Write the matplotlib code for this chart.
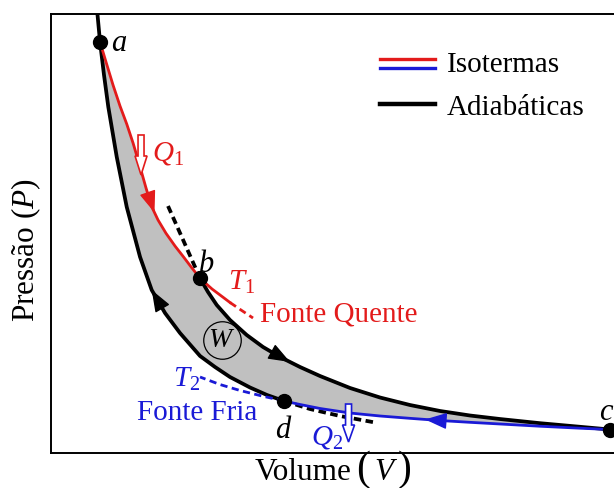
import matplotlib
matplotlib.use("Agg")
import matplotlib.pyplot as plt
from matplotlib.patches import FancyArrow
from matplotlib.offsetbox import TextArea, HPacker, AnnotationBbox
import numpy as np

plt.rcParams["font.family"] = ["Liberation Serif", "DejaVu Serif"]
plt.rcParams["mathtext.fontset"] = "custom"
plt.rcParams["mathtext.rm"] = "Liberation Serif"
plt.rcParams["mathtext.it"] = "Liberation Serif:italic"

red = "#e31b1b"
blue = "#1a1ad6"
gray = "#c0c0c0"

####################
# Ciclo de Carnot  #
####################

# estados a, b, c, d (V, P)
state_names = ["a", "b", "c", "d"]
state_V = [0.854, 2.596, 9.739, 4.059]
state_P = [9.362, 3.980, 0.535, 1.185]

# isoterma quente a -> b
hot_V = [0.854, 0.958, 1.080, 1.202, 1.319, 1.429, 1.542, 1.655, 1.754, 1.803,
         1.864, 2.003, 2.160, 2.305, 2.448, 2.596]
hot_P = [9.362, 8.907, 8.383, 7.904, 7.494, 7.062, 6.560, 6.036, 5.611, 5.476,
         5.308, 5.005, 4.715, 4.472, 4.226, 3.980]
hot_ext_V = [2.596, 2.805, 3.014, 3.118]
hot_ext_P = [3.980, 3.736, 3.531, 3.428]
hot_dash_V = [3.118, 3.310, 3.519]
hot_dash_P = [3.428, 3.257, 3.075]

# adiabatica b -> c
ad_bc_V = [2.596, 2.735, 2.887, 3.118, 3.409, 3.693, 3.990, 4.164, 4.338, 4.686,
           5.209, 5.732, 6.254, 6.777, 7.300, 7.822, 8.519, 9.216, 9.739]
ad_bc_P = [3.980, 3.667, 3.371, 3.030, 2.688, 2.415, 2.187, 2.073, 1.959, 1.754,
           1.481, 1.264, 1.093, 0.957, 0.854, 0.774, 0.679, 0.597, 0.535]
ad_bc_dash_V = [2.038, 2.317, 2.596]
ad_bc_dash_P = [5.626, 4.806, 3.980]

# isoterma fria c -> d
cold_V = [9.739, 9.216, 8.519, 7.822, 7.300, 6.777, 6.516, 6.254, 5.732, 5.209,
          4.686, 4.338, 4.059]
cold_P = [0.535, 0.565, 0.610, 0.661, 0.699, 0.740, 0.765, 0.790, 0.843, 0.911,
          1.014, 1.105, 1.185]
cold_dash_V = [4.059, 3.676, 3.293, 2.944, 2.596]
cold_dash_P = [1.185, 1.298, 1.424, 1.560, 1.731]

# adiabatica d -> a
ad_da_V = [4.059, 3.763, 3.467, 3.118, 2.857, 2.596, 2.247, 1.986, 1.754, 1.551,
           1.319, 1.145, 0.998, 0.923, 0.854]
ad_da_P = [1.185, 1.321, 1.492, 1.731, 1.959, 2.210, 2.733, 3.189, 3.713, 4.465,
           5.604, 6.743, 7.882, 8.610, 9.362]
ad_da_top_V = [0.854, 0.794]
ad_da_top_P = [9.362, 10.205]
ad_da_dash_V = [4.059, 4.512, 5.035, 5.645]
ad_da_dash_P = [1.185, 1.002, 0.843, 0.695]

legend_labels = ["Isotermas", "Adiabáticas"]

fig = plt.figure(figsize=(6.14, 4.88), dpi=100)
ax = fig.add_axes([0.0831, 0.0717, 0.9349, 0.8996])
ax.set_xlim(0, 10)
ax.set_ylim(0, 10)
ax.set_xticks([])
ax.set_yticks([])
for s in ax.spines.values():
    s.set_linewidth(1.4)

# area do trabalho
fill_V = hot_V + ad_bc_V[1:] + cold_V[1:] + ad_da_V[1:]
fill_P = hot_P + ad_bc_P[1:] + cold_P[1:] + ad_da_P[1:]
ax.fill(fill_V, fill_P, color=gray, lw=0, zorder=1)

lw_ad = 2.7
lw_iso = 2.0
ax.plot(ad_bc_dash_V, ad_bc_dash_P, color="k", lw=lw_ad, ls=(0, (2.0, 1.2)), zorder=2)
ax.plot(ad_da_dash_V, ad_da_dash_P, color="k", lw=lw_ad, ls=(0, (2.0, 1.2)), zorder=2)
ax.plot(ad_bc_V, ad_bc_P, color="k", lw=lw_ad, zorder=3)
ax.plot(ad_da_V, ad_da_P, color="k", lw=lw_ad, zorder=3)
ax.plot(ad_da_top_V, ad_da_top_P, color="k", lw=lw_ad, zorder=3)

ax.plot(hot_V, hot_P, color=red, lw=lw_iso, zorder=4)
ax.plot(hot_ext_V, hot_ext_P, color=red, lw=lw_iso, zorder=4)
ax.plot(hot_dash_V, hot_dash_P, color=red, lw=lw_iso, ls=(0, (2.6, 1.6)), zorder=4)
ax.plot(cold_V, cold_P, color=blue, lw=lw_iso, zorder=4)
ax.plot(cold_dash_V, cold_dash_P, color=blue, lw=lw_iso, ls=(0, (2.6, 1.6)), zorder=4)

# setas de sentido do ciclo
def arrow_on(Vs, Ps, i0, i1, color):
    ax.annotate("", xy=(Vs[i1], Ps[i1]), xytext=(Vs[i0], Ps[i0]),
                arrowprops=dict(arrowstyle="-|>,head_length=0.85,head_width=0.32",
                                color=color, lw=1, shrinkA=0, shrinkB=0,
                                mutation_scale=16),
                zorder=5)

arrow_on(hot_V, hot_P, 7, 9, red)
arrow_on(ad_bc_V, ad_bc_P, 5, 7, "k")
arrow_on(cold_V, cold_P, 5, 6, blue)
arrow_on(ad_da_V, ad_da_P, 7, 8, "k")

# pontos
ax.plot(state_V, state_P, "o", color="k", ms=10, zorder=6, clip_on=False)
ax.text(1.045, 9.157, state_names[0], style="italic", fontsize=22, ha="left", va="baseline")
ax.text(2.700, 4.123, state_names[1], style="italic", fontsize=22, ha="center", va="baseline")
ax.text(9.790, 0.752, state_names[2], style="italic", fontsize=22, ha="right", va="baseline")
ax.text(4.042, 0.342, state_names[3], style="italic", fontsize=22, ha="center", va="baseline")

# trabalho
ax.plot([2.979], [2.574], "o", ms=27, mfc="none", mec="k", mew=0.9, zorder=6)
ax.text(2.979, 2.574, "$W$", fontsize=20, ha="center", va="center", zorder=6)

# calor
ax.add_patch(FancyArrow(1.568, 7.244, 0, -0.911, width=0.1045, head_width=0.209,
                        head_length=0.433, length_includes_head=True,
                        fc="white", ec=red, lw=1.2, zorder=7))
ax.add_patch(FancyArrow(5.183, 1.116, 0, -0.865, width=0.1045, head_width=0.209,
                        head_length=0.387, length_includes_head=True,
                        fc="white", ec=blue, lw=1.2, zorder=7))
ax.text(1.760, 6.674, "$Q_1$", color=red, fontsize=21, ha="left", va="baseline")
ax.text(4.530, 0.205, "$Q_2$", color=blue, fontsize=21, ha="left", va="baseline")

# fontes
ax.text(3.084, 3.713, "$T_1$", color=red, fontsize=21, ha="left", va="baseline")
ax.text(3.641, 2.991, "Fonte Quente", color=red, fontsize=21, ha="left", va="baseline")
ax.text(2.125, 1.503, "$T_2$", color=blue, fontsize=21, ha="left", va="baseline")
ax.text(1.493, 0.752, "Fonte Fria", color=blue, fontsize=21, ha="left", va="baseline")

# legenda
tr = ax.transAxes
ax.plot([0.573, 0.669], [0.897, 0.897], color=red, lw=2.4, transform=tr)
ax.plot([0.573, 0.669], [0.878, 0.878], color=blue, lw=2.4, transform=tr)
ax.plot([0.573, 0.669], [0.795, 0.795], color="k", lw=3.2, transform=tr)
ax.text(0.690, 0.869, legend_labels[0], fontsize=21, ha="left", va="baseline", transform=tr)
ax.text(0.690, 0.770, legend_labels[1], fontsize=21, ha="left", va="baseline", transform=tr)

# eixos
fig.text(26 / 614, (488 - 250.5) / 488, "Pressão $(P)$", rotation=90,
         fontsize=22.5, ha="center", va="center")
box = HPacker(children=[TextArea("Volume", textprops=dict(fontsize=22.5)),
                        TextArea("(", textprops=dict(fontsize=30)),
                        TextArea("V", textprops=dict(fontsize=22.5, style="italic")),
                        TextArea(")", textprops=dict(fontsize=30))],
              align="baseline", pad=0, sep=3)
ab = AnnotationBbox(box, (333, 18), xycoords="figure pixels", frameon=False,
                    box_alignment=(0.5, 0.5))
fig.add_artist(ab)

fig.savefig("out.png", dpi=100)
